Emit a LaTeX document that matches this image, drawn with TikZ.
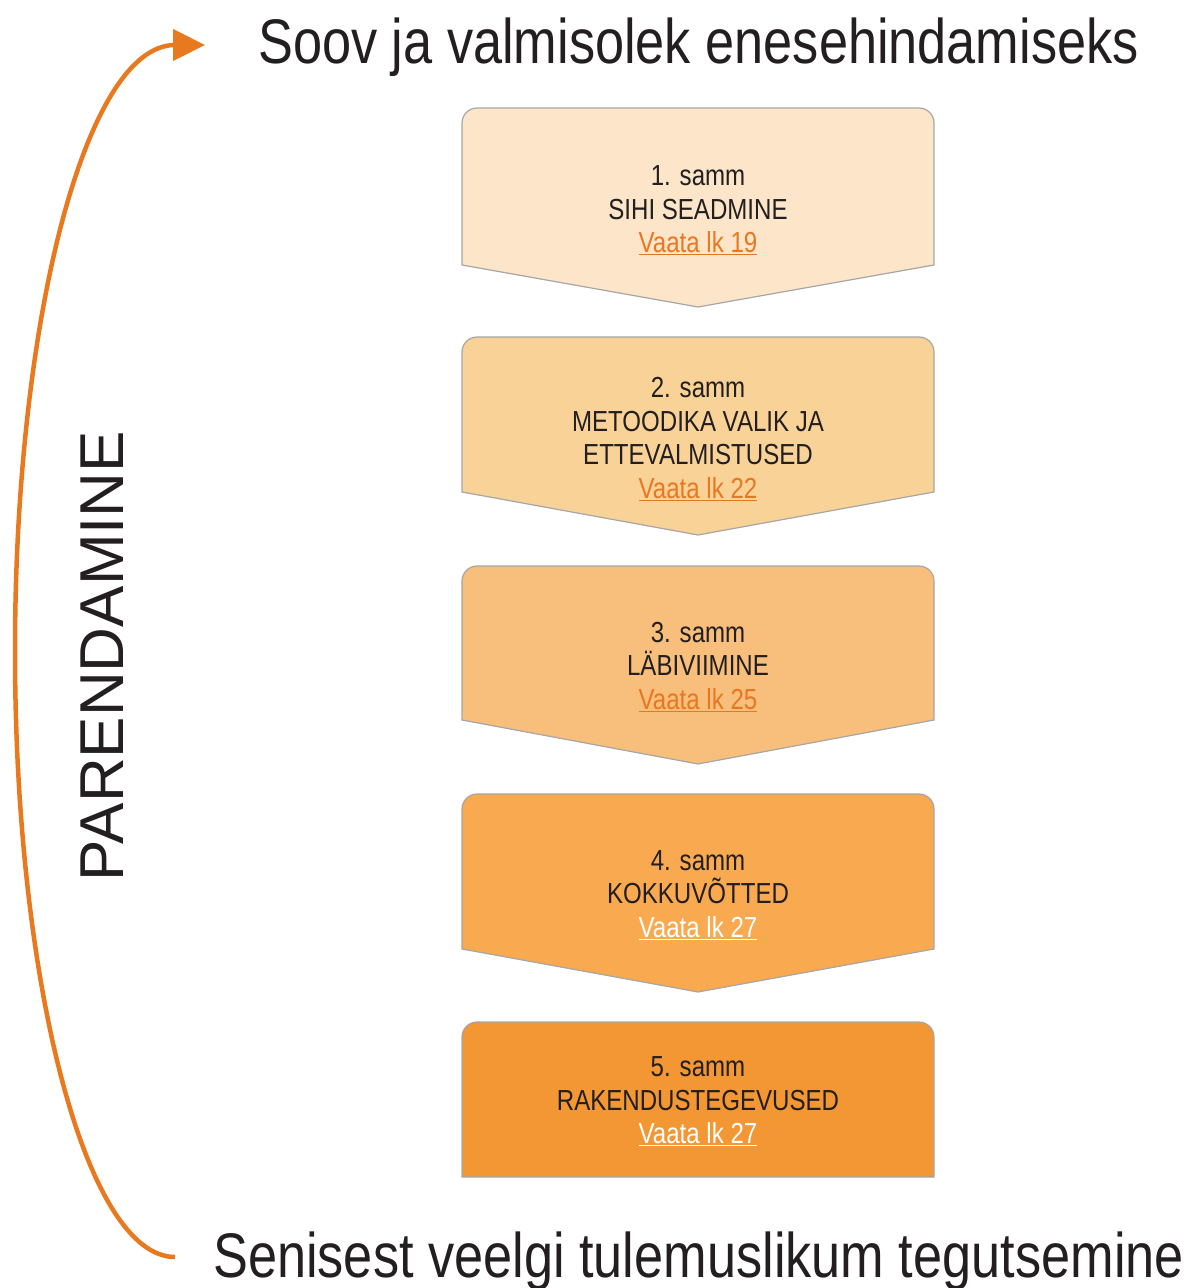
\documentclass[tikz,border=0pt]{standalone}
\usepackage{fontspec}
\setmainfont{Liberation Sans}[FakeStretch=0.83]
\newfontfamily\widefont{Liberation Sans}
\usetikzlibrary{arrows.meta}
\definecolor{stepone}{HTML}{FCE5C8}
\definecolor{steptwo}{HTML}{F9D298}
\definecolor{stepthree}{HTML}{F8BE7B}
\definecolor{stepfour}{HTML}{F9AA50}
\definecolor{stepfive}{HTML}{F39634}
\definecolor{boxgray}{HTML}{A6A6A6}
\definecolor{loopline}{HTML}{E8791E}
\definecolor{linkorange}{HTML}{E87722}
\definecolor{textblack}{HTML}{231F20}
\tikzset{x=1pt,y=-1pt,
    stepbox/.style={draw=boxgray, line width=1.2pt},
    steptext/.style={align=center, text=textblack, font=\fontsize{29}{33.5}\selectfont},
    headline/.style={inner sep=0pt, text=textblack, font=\fontsize{63}{70}\selectfont},
    }
\newcommand{\vaata}[2]{\textcolor{#1}{\underline{Vaata lk #2}}}

\begin{document}
\begin{tikzpicture}
	\useasboundingbox (0,0) rectangle (1190,1288);
	% step shapes
	\draw[stepbox, fill=stepone] (462,200) [rounded corners=15pt] -- (462,108) -- (934,108) -- (934,200) [sharp corners] -- (934,265) -- (698,307) -- (462,265) -- cycle;
	\draw[stepbox, fill=steptwo] (462,430) [rounded corners=15pt] -- (462,337) -- (934,337) -- (934,430) [sharp corners] -- (934,492) -- (698,535) -- (462,492) -- cycle;
	\draw[stepbox, fill=stepthree] (462,660) [rounded corners=15pt] -- (462,566) -- (934,566) -- (934,660) [sharp corners] -- (934,720) -- (698,764) -- (462,720) -- cycle;
	\draw[stepbox, fill=stepfour] (462,890) [rounded corners=15pt] -- (462,794) -- (934,794) -- (934,890) [sharp corners] -- (934,949) -- (698,992) -- (462,949) -- cycle;
	\draw[stepbox, fill=stepfive] (462,1100) [rounded corners=15pt] -- (462,1022) -- (934,1022) -- (934,1100) [sharp corners] -- (934,1177) -- (462,1177) -- cycle;
	% step texts
	\node[steptext] (samm1) at (698,210.5) {1. samm\\SIHI SEADMINE\\\vaata{linkorange}{19}};
	\node[steptext] (samm2) at (698,439) {2. samm\\METOODIKA VALIK JA\\ETTEVALMISTUSED\\\vaata{linkorange}{22}};
	\node[steptext] (samm3) at (698,667) {3. samm\\LÄBIVIIMINE\\\vaata{linkorange}{25}};
	\node[steptext] (samm4) at (698,895) {4. samm\\KOKKUVÕTTED\\\vaata{white}{27}};
	\node[steptext] (samm5) at (698,1101.5) {5. samm\\RAKENDUSTEGEVUSED\\\vaata{white}{27}};
	% headlines
	\node[headline, anchor=base west] (soov) at (258,63) {Soov ja valmisolek enesehindamiseks};
	\node[headline, anchor=base west] (senisest) at (213,1277) {Senisest veelgi tulemuslikum tegutsemine};
	\node[inner sep=0pt, text=textblack, font=\widefont\fontsize{62}{70}\selectfont, rotate=90, anchor=base] (parendamine) at (123,656) {PARENDAMINE};
	% loop arrow
	\coordinate (loopstart) at (175,1257);
	\coordinate (loopleft) at (15,651);
	\coordinate (looptip) at (205,45);
	\draw[loopline, line width=4.5pt, -{Triangle[length=32pt,width=31pt]}] (loopstart) .. controls (86.6,1257) and (15,985.7) .. (loopleft)
		.. controls (15,316.3) and (86.6,45) .. (175,45) -- (looptip);
\end{tikzpicture}
\end{document}
